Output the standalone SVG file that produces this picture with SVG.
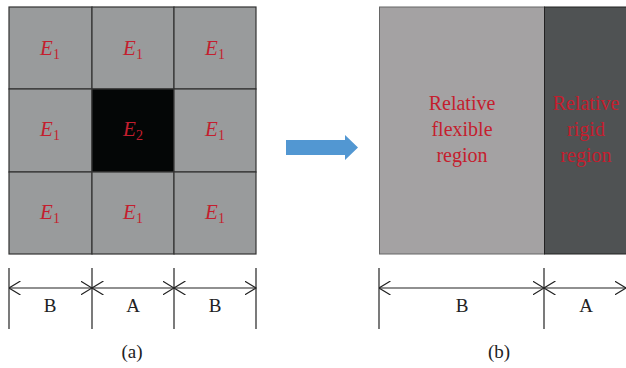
<svg xmlns="http://www.w3.org/2000/svg" width="626" height="368" viewBox="0 0 626 368">
<style>
.cell{fill:#999b9c;stroke:#333;stroke-width:1.2}
.lbl{font-family:"Liberation Serif",serif;font-style:italic;font-size:21px;fill:#c41e2e;text-anchor:middle}
.sub{font-size:14px;font-style:normal}
.reg{font-family:"Liberation Serif",serif;font-size:20px;fill:#c41e2e;text-anchor:middle}
.dim{stroke:#222;stroke-width:1.2;fill:none}
.dt{font-family:"Liberation Serif",serif;font-size:19px;fill:#222;text-anchor:middle}
</style>
<defs>
<marker id="ah" viewBox="0 0 12 14" refX="11.5" refY="7" markerWidth="12" markerHeight="14" markerUnits="userSpaceOnUse" orient="auto-start-reverse">
<path d="M0,0 L11.5,7 L0,14" fill="none" stroke="#222" stroke-width="1.2"/>
</marker>
</defs>
<rect width="626" height="368" fill="#fff"/>
<g id="grid">
<rect class="cell" x="9" y="7" width="83" height="82"/>
<rect class="cell" x="92" y="7" width="82" height="82"/>
<rect class="cell" x="174" y="7" width="82" height="82"/>
<rect class="cell" x="9" y="89" width="83" height="83"/>
<rect class="cell" x="92" y="89" width="82" height="83" style="fill:#040606"/>
<rect class="cell" x="174" y="89" width="82" height="83"/>
<rect class="cell" x="9" y="172" width="83" height="82"/>
<rect class="cell" x="92" y="172" width="82" height="82"/>
<rect class="cell" x="174" y="172" width="82" height="82"/>
<text class="lbl" x="50" y="55">E<tspan class="sub" dy="4">1</tspan></text>
<text class="lbl" x="133" y="55">E<tspan class="sub" dy="4">1</tspan></text>
<text class="lbl" x="215" y="55">E<tspan class="sub" dy="4">1</tspan></text>
<text class="lbl" x="50" y="136">E<tspan class="sub" dy="4">1</tspan></text>
<text class="lbl" x="133" y="136">E<tspan class="sub" dy="4">2</tspan></text>
<text class="lbl" x="215" y="136">E<tspan class="sub" dy="4">1</tspan></text>
<text class="lbl" x="50" y="219">E<tspan class="sub" dy="4">1</tspan></text>
<text class="lbl" x="133" y="219">E<tspan class="sub" dy="4">1</tspan></text>
<text class="lbl" x="215" y="219">E<tspan class="sub" dy="4">1</tspan></text>
</g>
<g id="regions">
<rect x="379.5" y="7" width="165" height="247" fill="#a4a2a3" stroke="#666" stroke-width="1"/>
<rect x="544.5" y="7" width="82" height="247" fill="#4f5253" stroke="#222" stroke-width="1"/>
<text class="reg" x="462" y="110">Relative</text>
<text class="reg" x="462" y="136">flexible</text>
<text class="reg" x="462" y="162">region</text>
<text class="reg" x="586" y="110">Relative</text>
<text class="reg" x="586" y="136">rigid</text>
<text class="reg" x="586" y="162">region</text>
</g>
<g id="connectors">
<polygon points="286,140 345,140 345,135 358,147.5 345,160 345,155 286,155" fill="#5297d2"/>
<line class="dim" x1="9" y1="268" x2="9" y2="329"/>
<line class="dim" x1="92" y1="268" x2="92" y2="329"/>
<line class="dim" x1="174" y1="268" x2="174" y2="329"/>
<line class="dim" x1="256" y1="268" x2="256" y2="329"/>
<line class="dim" x1="9" y1="288" x2="92" y2="288" marker-start="url(#ah)" marker-end="url(#ah)"/>
<line class="dim" x1="92" y1="288" x2="174" y2="288" marker-start="url(#ah)" marker-end="url(#ah)"/>
<line class="dim" x1="174" y1="288" x2="256" y2="288" marker-start="url(#ah)" marker-end="url(#ah)"/>
<line class="dim" x1="379" y1="268" x2="379" y2="329"/>
<line class="dim" x1="544" y1="268" x2="544" y2="329"/>
<line class="dim" x1="379" y1="288" x2="544" y2="288" marker-start="url(#ah)" marker-end="url(#ah)"/>
<line class="dim" x1="544" y1="288" x2="626" y2="288" marker-start="url(#ah)" marker-end="url(#ah)"/>
</g>
<g id="dimlabels">
<text class="dt" x="50" y="312">B</text>
<text class="dt" x="133" y="312">A</text>
<text class="dt" x="215" y="312">B</text>
<text class="dt" x="462" y="312">B</text>
<text class="dt" x="586" y="312">A</text>
<text class="dt" x="132" y="358">(a)</text>
<text class="dt" x="499" y="358">(b)</text>
</g>
</svg>
